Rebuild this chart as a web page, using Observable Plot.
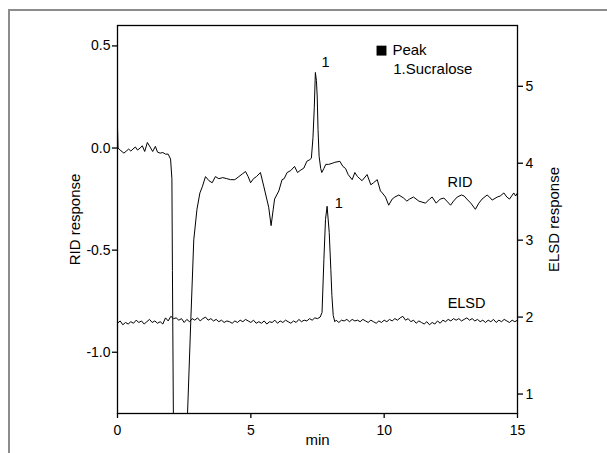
<!DOCTYPE html>
<html>
<head>
<meta charset="utf-8">
<script src="https://cdn.jsdelivr.net/npm/d3@7"></script>
<script src="https://cdn.jsdelivr.net/npm/@observablehq/plot@0.6"></script>
<style>
  html, body { margin: 0; padding: 0; background: #fff; overflow: hidden; }
  #wrap { position: relative; width: 607px; height: 453px; overflow: hidden; }
  #border { position: absolute; left: 8px; top: 9px; width: 800px; height: 800px;
            border-top: 2px solid #8c8c8c; border-left: 2px solid #8c8c8c; }
  #chart { position: absolute; left: 0; top: 0; }
</style>
</head>
<body>
<div id="wrap"><div id="border"></div><div id="chart"></div></div>
<script>
// ---- data ----
const xTicks = [0, 5, 10, 15];
const ridTicks = [-1.0, -0.5, 0.0, 0.5];
const elsdTicks = [1, 2, 3, 4, 5];
const ridDomain = [-1.3, 0.6];
const elsdDomain = [0.747, 5.79];

// RID trace: [min, response]
const ridTrace = [
  [0.00, 0.10], [0.02, 0.00], [0.10, -0.01], [0.24, -0.025], [0.33, -0.015], [0.42, -0.005],
  [0.50, -0.015], [0.58, -0.005], [0.67, 0.005], [0.75, -0.01], [0.85, 0.0], [0.93, 0.011],
  [1.02, -0.017], [1.12, 0.027], [1.20, 0.01], [1.32, -0.017], [1.42, 0.008], [1.50, -0.02],
  [1.60, -0.025], [1.70, -0.022], [1.80, -0.03], [1.90, -0.03], [1.99, -0.054], [2.04, -0.15],
  [2.06, -0.6], [2.10, -1.4], [2.60, -1.4], [2.75, -0.84], [2.86, -0.45], [2.98, -0.30],
  [3.09, -0.22], [3.18, -0.19], [3.30, -0.14], [3.43, -0.16], [3.55, -0.17], [3.67, -0.14],
  [3.80, -0.15], [3.95, -0.145], [4.10, -0.15], [4.24, -0.155], [4.40, -0.155], [4.55, -0.14],
  [4.70, -0.125], [4.80, -0.115], [4.90, -0.14], [4.99, -0.17], [5.10, -0.15], [5.21, -0.14],
  [5.36, -0.12], [5.49, -0.19], [5.67, -0.29], [5.76, -0.38], [5.84, -0.30], [5.89, -0.25],
  [6.05, -0.21], [6.17, -0.155], [6.25, -0.15], [6.36, -0.12], [6.50, -0.11], [6.64, -0.09],
  [6.75, -0.12], [6.85, -0.11], [6.99, -0.098], [7.10, -0.065], [7.21, -0.057], [7.27, -0.05],
  [7.33, 0.05], [7.38, 0.20], [7.42, 0.37], [7.46, 0.33], [7.49, 0.25], [7.52, 0.09],
  [7.56, -0.04], [7.62, -0.10], [7.66, -0.12], [7.74, -0.10], [7.81, -0.08], [7.92, -0.08],
  [8.05, -0.075], [8.15, -0.07], [8.34, -0.065], [8.45, -0.09], [8.55, -0.10], [8.65, -0.13],
  [8.80, -0.155], [8.90, -0.12], [9.00, -0.14], [9.17, -0.16], [9.36, -0.13], [9.50, -0.18],
  [9.60, -0.17], [9.74, -0.155], [9.86, -0.21], [9.93, -0.22], [10.05, -0.24], [10.17, -0.28],
  [10.30, -0.25], [10.40, -0.24], [10.55, -0.23], [10.73, -0.245], [10.85, -0.26], [10.95, -0.25],
  [11.10, -0.24], [11.30, -0.26], [11.55, -0.27], [11.70, -0.25], [11.80, -0.24], [11.95, -0.27],
  [12.10, -0.25], [12.24, -0.245], [12.35, -0.26], [12.49, -0.28], [12.60, -0.26], [12.74, -0.24],
  [12.90, -0.23], [13.00, -0.235], [13.10, -0.25], [13.25, -0.27], [13.42, -0.30], [13.55, -0.27],
  [13.67, -0.25], [13.86, -0.23], [13.95, -0.24], [14.05, -0.255], [14.24, -0.24], [14.35, -0.235],
  [14.49, -0.22], [14.60, -0.24], [14.70, -0.25], [14.86, -0.22], [14.93, -0.235], [15.00, -0.22]
];

// ELSD trace: [min, response]
const elsdTrace = [
  [0.0, 1.92], [0.1, 1.95], [0.2, 1.90], [0.3, 1.93], [0.4, 1.91], [0.5, 1.94], [0.6, 1.92],
  [0.7, 1.96], [0.8, 1.93], [0.9, 1.95], [1.0, 1.91], [1.1, 1.94], [1.2, 1.97], [1.3, 1.93],
  [1.4, 1.95], [1.5, 1.92], [1.6, 1.94], [1.7, 1.91], [1.8, 1.99], [1.9, 1.95], [2.0, 2.01],
  [2.1, 1.98], [2.2, 1.99], [2.3, 1.96], [2.4, 1.98], [2.5, 1.93], [2.6, 1.97], [2.7, 1.94],
  [2.8, 1.98], [2.9, 1.96], [3.0, 1.99], [3.1, 1.95], [3.2, 1.98], [3.3, 2.00], [3.4, 1.96],
  [3.5, 1.98], [3.6, 1.95], [3.7, 1.97], [3.8, 1.94], [3.9, 1.96], [4.0, 1.93], [4.1, 1.95],
  [4.2, 1.94], [4.3, 1.92], [4.4, 1.95], [4.5, 1.93], [4.6, 1.96], [4.7, 1.94], [4.8, 1.97],
  [4.9, 1.95], [5.0, 1.93], [5.1, 1.96], [5.2, 1.92], [5.3, 1.94], [5.4, 1.92], [5.5, 1.95],
  [5.6, 1.91], [5.7, 1.94], [5.8, 1.93], [5.9, 1.96], [6.0, 1.92], [6.1, 1.95], [6.2, 1.93],
  [6.3, 1.96], [6.4, 1.94], [6.5, 1.92], [6.6, 1.95], [6.7, 1.93], [6.8, 1.97], [6.9, 1.94],
  [7.0, 1.96], [7.1, 1.95], [7.2, 1.98], [7.3, 1.96], [7.4, 1.99], [7.5, 1.98], [7.6, 2.00],
  [7.67, 2.06], [7.74, 2.75], [7.80, 3.27], [7.86, 3.44], [7.94, 3.10], [8.00, 2.62],
  [8.04, 2.28], [8.09, 2.02], [8.15, 1.94], [8.2, 1.96], [8.3, 1.93], [8.4, 1.96], [8.5, 1.95],
  [8.6, 1.97], [8.7, 1.94], [8.8, 1.97], [8.9, 1.95], [9.0, 1.96], [9.1, 1.94], [9.2, 1.97],
  [9.3, 1.95], [9.4, 1.93], [9.5, 1.96], [9.6, 1.94], [9.7, 1.92], [9.8, 1.95], [9.9, 1.93],
  [10.0, 1.96], [10.1, 1.94], [10.2, 1.97], [10.3, 1.95], [10.4, 1.98], [10.5, 1.96], [10.6, 1.99],
  [10.7, 2.01], [10.8, 1.96], [10.9, 1.98], [11.0, 1.94], [11.1, 1.96], [11.2, 1.92], [11.3, 1.95],
  [11.4, 1.93], [11.5, 1.91], [11.6, 1.94], [11.7, 1.90], [11.8, 1.93], [11.9, 1.91], [12.0, 1.95],
  [12.1, 1.92], [12.2, 1.96], [12.3, 1.94], [12.4, 1.97], [12.5, 1.95], [12.6, 1.98], [12.7, 1.96],
  [12.8, 1.98], [12.9, 1.95], [13.0, 1.97], [13.1, 1.99], [13.2, 1.96], [13.3, 1.98], [13.4, 1.95],
  [13.5, 1.97], [13.6, 1.94], [13.7, 1.96], [13.8, 1.93], [13.9, 1.96], [14.0, 1.94], [14.1, 1.97],
  [14.2, 1.93], [14.3, 1.96], [14.4, 1.94], [14.5, 1.97], [14.6, 1.95], [14.7, 1.93], [14.8, 1.96],
  [14.9, 1.94], [15.0, 1.96]
];

// annotations (x in min, y in RID units)
const annoText = ["1", "1", "RID", "ELSD"];
const annoX = [7.8, 8.3, 12.84, 13.09];
const annoY = [0.418, -0.27, -0.168, -0.759];

const legendMarkX = [9.9];
const legendMarkY = [0.477];
const legendText = ["Peak", "1.Sucralose"];
const legendX = [10.31, 10.34];
const legendY = [0.477, 0.385];

// ---- chart ----
const toRid = d3.scaleLinear().domain(elsdDomain).range(ridDomain);
const rid = ridTrace.map(([t, v]) => ({t, v}));
const elsd = elsdTrace.map(([t, v]) => ({t, v: toRid(v)}));
const annos = annoText.map((s, i) => ({s, x: annoX[i], y: annoY[i]}));
const legs = legendText.map((s, i) => ({s, x: legendX[i], y: legendY[i]}));
const marks = legendMarkX.map((x, i) => ({x, y: legendMarkY[i]}));

const chart = Plot.plot({
  width: 607,
  height: 453,
  marginLeft: 117,
  marginRight: 90,
  marginTop: 25,
  marginBottom: 40,
  style: {fontFamily: "'Liberation Sans', Arial, sans-serif", fontSize: "14px", color: "black", background: "transparent"},
  x: {domain: [0, 15]},
  y: {domain: ridDomain},
  marks: [
    Plot.axisX(xTicks, {tickSize: 5, tickPadding: 7, label: null, tickFormat: d => String(d), strokeWidth: 1.3}),
    Plot.axisY(ridTicks, {tickSize: 5, tickPadding: 2, label: null, tickFormat: d => d.toFixed(1), strokeWidth: 1.3}),
    Plot.axisY(elsdTicks.map(d => toRid(d)), {anchor: "right", tickSize: 5, tickPadding: 3, label: null,
      tickFormat: r => String(Math.round(toRid.invert(r))), strokeWidth: 1.3}),
    Plot.line(rid, {x: "t", y: "v", stroke: "black", strokeWidth: 1, clip: true}),
    Plot.line(elsd, {x: "t", y: "v", stroke: "black", strokeWidth: 1, clip: true}),
    Plot.frame({stroke: "black", strokeWidth: 1.3}),
    Plot.text(annos, {x: "x", y: "y", text: "s", fill: "black", fontSize: 14.5}),
    Plot.dot(marks, {x: "x", y: "y", symbol: "square", r: 5.6, fill: "black", stroke: null}),
    Plot.text(legs, {x: "x", y: "y", text: "s", textAnchor: "start", fill: "black", fontSize: 15}),
    Plot.text(["RID response"], {text: d => d, frameAnchor: "left", dx: -42, rotate: -90,
      textAnchor: "middle", lineAnchor: "middle", fill: "black", fontSize: 15}),
    Plot.text(["ELSD response"], {text: d => d, frameAnchor: "right", dx: 37, rotate: -90,
      textAnchor: "middle", lineAnchor: "middle", fill: "black", fontSize: 15}),
    Plot.text(["min"], {text: d => d, frameAnchor: "bottom", dy: 27, lineAnchor: "middle", fill: "black", fontSize: 15})
  ]
});
document.getElementById("chart").appendChild(chart);
</script>
</body>
</html>
